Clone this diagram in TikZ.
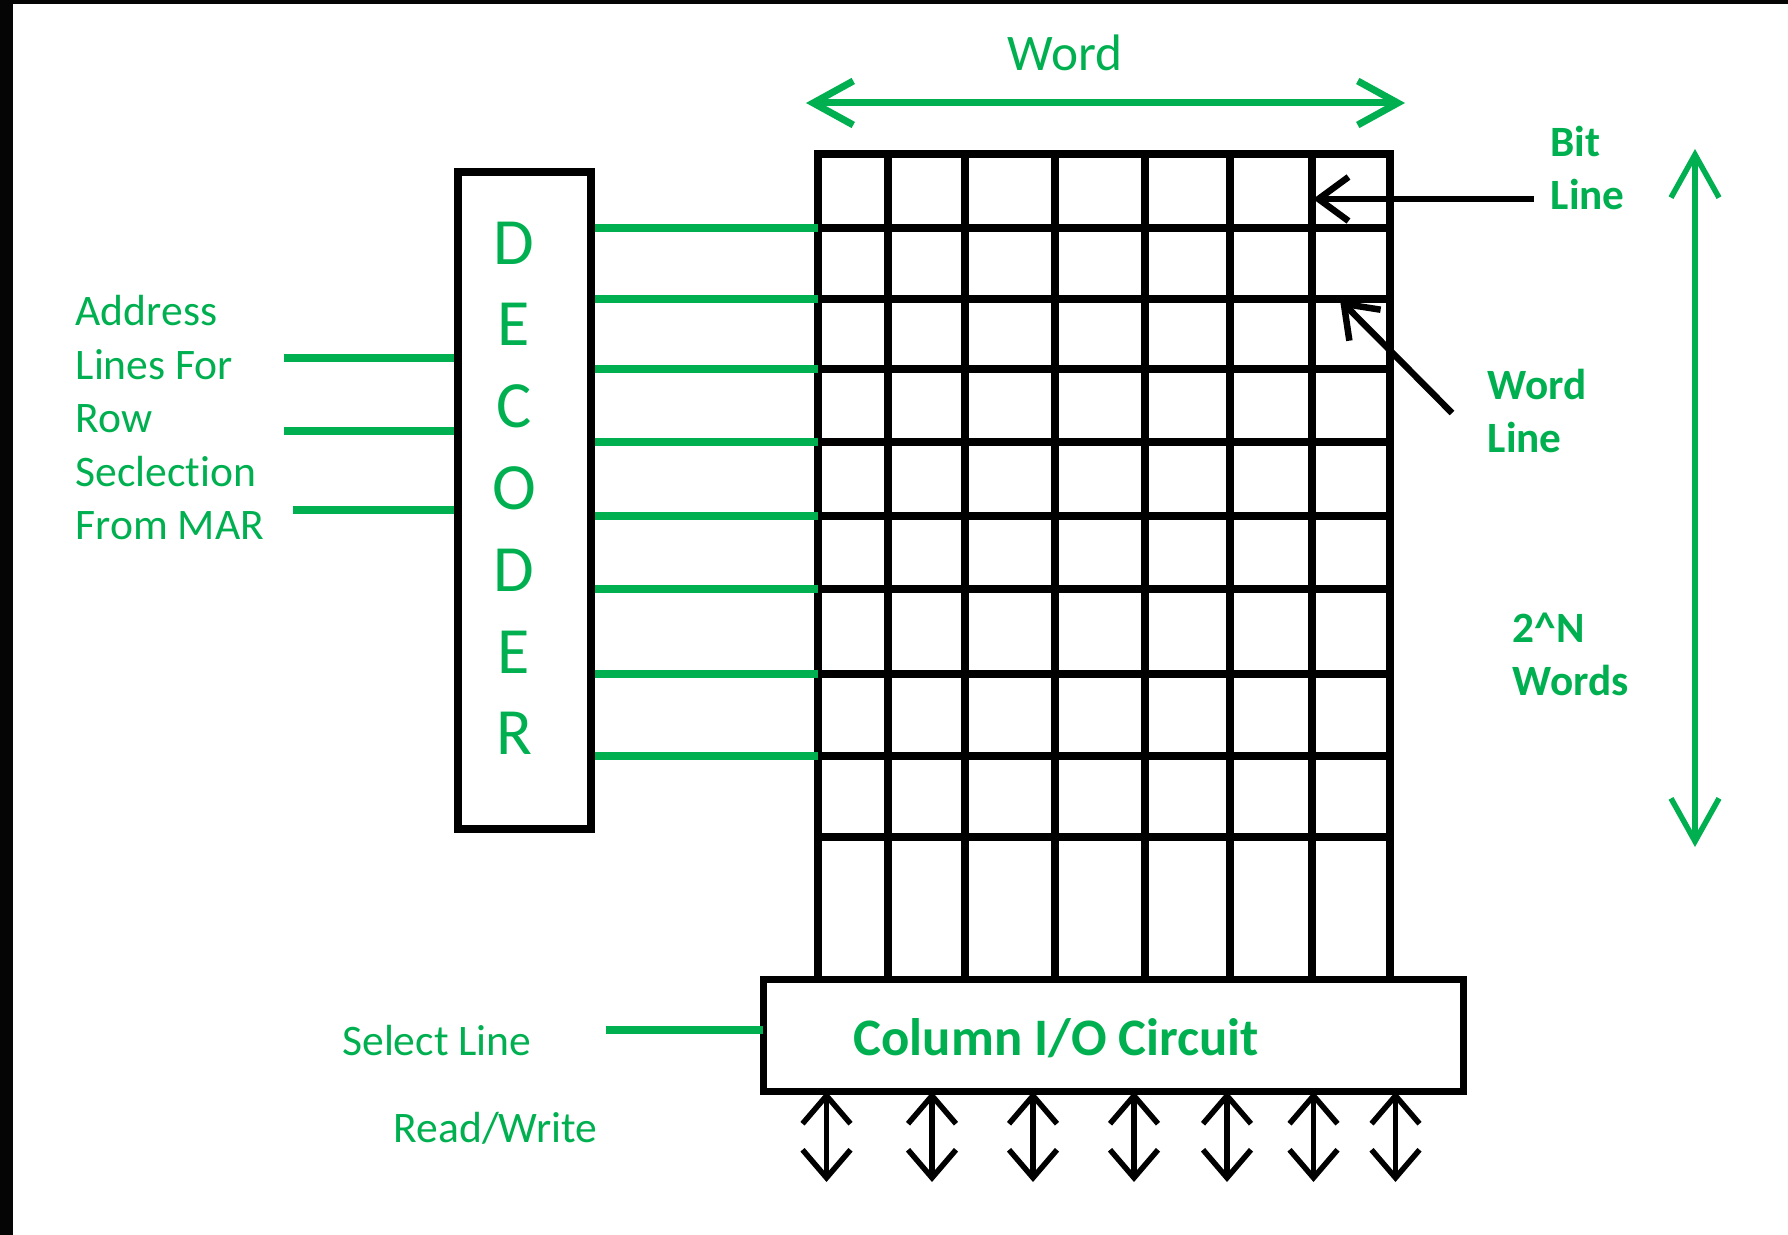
\documentclass[tikz,border=0pt]{standalone}
\usepackage{fontspec}
\setmainfont{Carlito}[Ligatures={NoCommon,NoRare}]
\usepackage{tikz}
\usetikzlibrary{positioning,arrows.meta,calc}
\definecolor{cGreen}{HTML}{00B050}
\definecolor{cInk}{HTML}{000000}
\definecolor{cFrame}{HTML}{050505}
\tikzset{
  gridLine/.style={draw=cInk, line width=0.75mm, line cap=rect},
  busLine/.style={draw=cGreen, line width=0.75mm},
  decBox/.style={draw=cInk, line width=0.8mm, minimum width=13.3mm,
                 minimum height=65.7mm, inner sep=0pt},
  ioBox/.style={draw=cInk, line width=0.7mm, minimum width=70mm,
                minimum height=11.25mm, inner sep=0pt, outer sep=0pt},
  decLetter/.style={text=cGreen, font=\fontsize{18.8}{22}\selectfont, inner sep=0pt},
  lbl/.style={text=cGreen, font=\fontsize{12.4}{15.2}\selectfont,
              inner sep=0pt, align=left},
  blbl/.style={text=cGreen, font=\bfseries\fontsize{12.3}{15.3}\selectfont,
               inner sep=0pt, align=left},
  spanArrow/.style={draw=cGreen, line width=0.7mm,
                    {Straight Barb[length=4mm,width=4.4mm]}-{Straight Barb[length=4mm,width=4.4mm]}},
  depthArrow/.style={draw=cGreen, line width=0.55mm,
                     {Straight Barb[length=4.3mm,width=4.8mm]}-{Straight Barb[length=4.3mm,width=4.8mm]}},
  pointer/.style={draw=cInk, line width=0.65mm, -{Straight Barb[length=3mm,width=4.4mm]}},
  ioArrow/.style={draw=cInk, line width=0.55mm,
                  {Straight Barb[length=2.8mm,width=4.8mm]}-{Straight Barb[length=2.8mm,width=4.8mm]}},
}

\begin{document}
\begin{tikzpicture}[x=0.1mm, y=-0.1mm]

\fill[white] (0,0) rectangle (1788,1235);
\useasboundingbox (0,0) rectangle (1788,1235);
\fill[cFrame] (0,0) rectangle (13,1235);
\fill[cFrame] (0,0) rectangle (1788,4.5);

% ========== CELL ARRAY ==========
\foreach \x in {818,888,965,1055,1145,1230,1312,1390} {
  \draw[gridLine] (\x,154) -- (\x,979);
}
\foreach \y in {154,228,299,369,442,516,589,674,756,837} {
  \draw[gridLine] (818,\y) -- (1390,\y);
}
\foreach \y [count=\i] in {228,299,369,442,516,589,674,756} {
  \coordinate (wl\i) at (818,\y);
}

% ========== DECODER ==========
\node[decBox] (dec) at (524.5,500.5) {};
\foreach \ch [count=\i from 0] in {D,E,C,O,D,E,R} {
  \node[decLetter] (dl\i) at (514, 243 + \i*81.8) {\ch};
}
\foreach \i in {1,...,8} {
  \draw[busLine] (dec.east |- wl\i) -- (wl\i);
}

\node[lbl, anchor=north west] (addrLbl) at (75,295)
  {Address\\Lines For\\Row\\Seclection\\From MAR};
\coordinate (adr1) at (284,358);
\coordinate (adr2) at (284,431);
\coordinate (adr3) at (293,510);
\foreach \i in {1,2,3} {
  \draw[busLine] (adr\i) -- (adr\i -| dec.west);
}

% ========== WORD WIDTH ==========
\coordinate (spanL) at (806,103);
\coordinate (spanR) at (1405,103);
\draw[spanArrow] (spanL) -- (spanR);
\node[lbl, anchor=base, font=\fontsize{14.6}{17}\selectfont] (wordLbl) at (1065,71) {Word};

% ========== BIT LINE / WORD LINE ==========
\node[blbl, anchor=north west] (bitLbl) at (1550,125) {Bit\\Line};
\coordinate (bitTail) at (1534,199);
\coordinate (bitTip) at (1313,199);
\draw[pointer] (bitTail) -- (bitTip);

\node[blbl, anchor=north west] (wlLbl) at (1487,368) {Word\\Line};
\coordinate (wlTail) at (1452,413);
\coordinate (wlTip) at (1340,300);
\draw[pointer] (wlTail) -- (wlTip);

% ========== 2^N WORDS ==========
\node[blbl, anchor=north west] (depthLbl) at (1512,612) {2\textasciicircum N\\Words};
\coordinate (depthTop) at (1695,149);
\coordinate (depthBot) at (1695,847);
\draw[depthArrow] (depthTop) -- (depthBot);

% ========== COLUMN I/O ==========
\node[ioBox] (colIO) at (1113,1035.25) {};
\node[blbl, anchor=base west, font=\bfseries\fontsize{15}{17}\selectfont] (colLbl) at (853,1055.6)
  {Column I/O Circuit};

\node[lbl, anchor=base west] (selLbl) at (341.6,1055.6) {Select Line};
\coordinate (selIn) at (606,1030);
\draw[busLine, line width=0.73mm] (selIn) -- (selIn -| colIO.west);

\node[lbl, anchor=base west] (rwLbl) at (393,1142.7) {Read/Write};

\foreach \x [count=\i] in {826.5,932,1033,1134,1227,1313.5,1395.5} {
  \coordinate (io\i) at (\x,1182);
  \draw[ioArrow] (io\i |- colIO.south) -- (io\i);
}

\end{tikzpicture}
\end{document}
